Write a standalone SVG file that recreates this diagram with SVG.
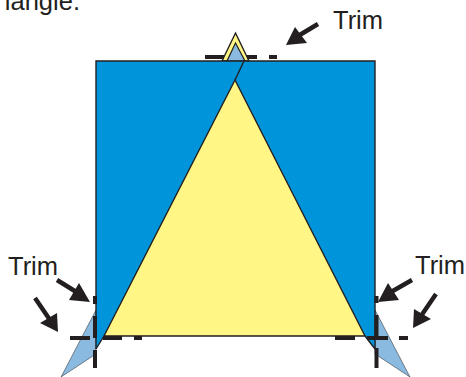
<svg xmlns="http://www.w3.org/2000/svg" width="466" height="377" viewBox="0 0 466 377">
<style>
text{font-family:"Liberation Sans",Arial,sans-serif;font-size:25.5px;fill:#231f20}
.e{stroke:#231f20;stroke-width:1.4;stroke-linejoin:miter}
.b{fill:#0095da}.y{fill:#fff685}.l{fill:#8abadf}
.f{stroke:#231f20;stroke-width:.5}
.t{stroke:#231f20;stroke-width:4;fill:none}
.a{stroke:#231f20;stroke-width:4.500;fill:none}
.h{fill:#231f20}
</style>
<g id="top-flap">
<path class="y e" d="M235.500 33L249 61H222Z"/>
<path class="l" d="M235.500 43L245 61H227Z" stroke="#231f20" stroke-width="1.200"/>
</g>
<g id="left-flap"><path class="l f" d="M96 310L61 377L96 354Z"/></g>
<g id="right-flap"><path class="l f" d="M375 310L410 377L375 354Z"/></g>
<g id="square">
<path class="b" d="M96 61H375V349L365 336L235 80L104 336L96 349Z"/>
<path class="e" fill="none" d="M96 349V61H375V349"/>
</g>
<g id="triangle"><path class="y e" d="M235 80L365 336H104Z"/></g>
<g id="connectors">
<path class="e" fill="none" d="M104 336L96 349M365 336L375 349M244 61L235 80"/>
<path class="t" d="M205 57H224M247 57H257M269 57H277"/>
<path class="t" d="M70 338H90M103 338H122M134 338H142M335 338H355M367 338H388M399 338H408"/>
<path class="t" d="M95 296V304M95 316V338M95 350V368M376.500 296V303M376.500 315V338M376.500 348V368"/>
<path class="a" d="M318 24L298 36M57 280L78 293M35 298L50 320M412 280L391 292M436 294L421 316"/>
<path class="h" d="M286 45L295 27L307 43ZM90 302L69 300L79 283ZM58 332L40 323L57 313ZM378 302L388 283L399 300ZM413 328L414 309L431 319Z"/>
</g>
<g id="labels">
<text x="80" y="10" text-anchor="end">iangle.</text>
<text x="333" y="29">Trim</text>
<text x="8" y="275">Trim</text>
<text x="415" y="274">Trim</text>
</g>
</svg>
